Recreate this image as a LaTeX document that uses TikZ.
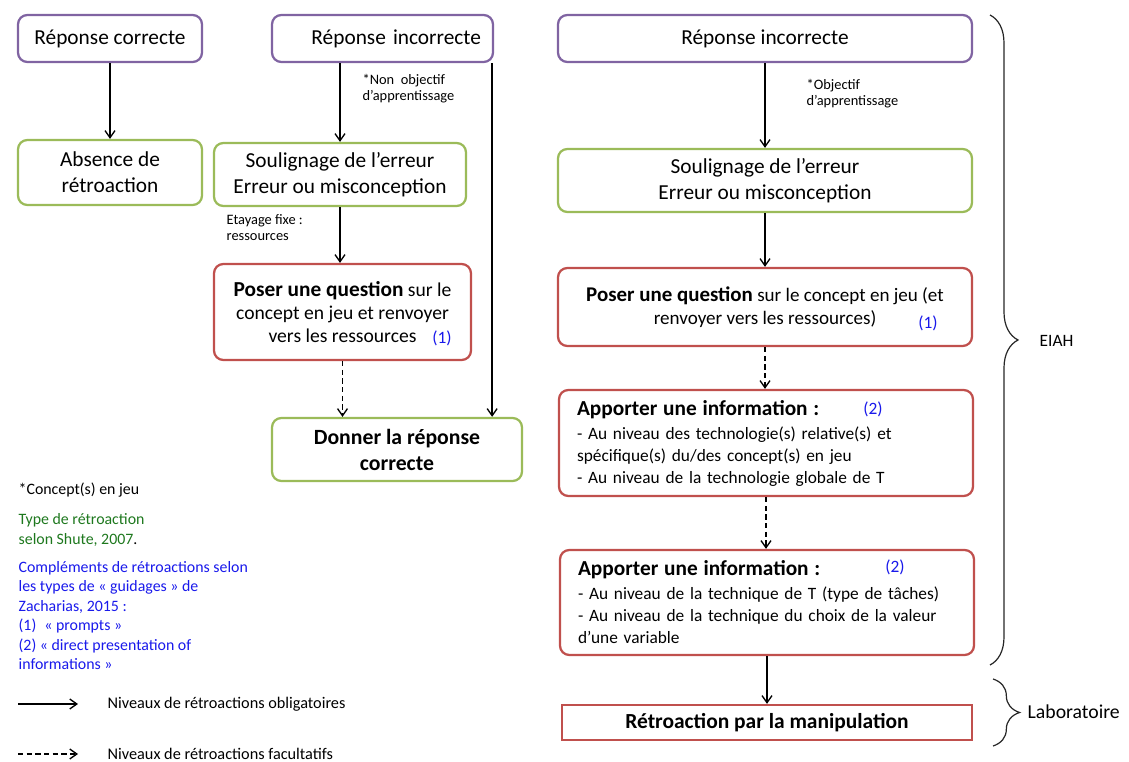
\documentclass[tikz,border=0pt]{standalone}
\usepackage{fontspec}
\setmainfont{Carlito}
\usetikzlibrary{arrows.meta, positioning, decorations.pathreplacing}
\definecolor{violetbord}{RGB}{128,100,162}
\definecolor{vertbord}{RGB}{155,187,89}
\definecolor{rougebord}{RGB}{192,80,77}
\definecolor{vertshute}{RGB}{30,120,30}
\definecolor{bleuzach}{RGB}{25,25,235}

\begin{document}
\begin{tikzpicture}[x=0.75pt, y=-0.75pt,
    box/.style={draw, rounded corners=7pt, line width=1.7pt, align=center, inner sep=0pt,
                fill=white, font=\fontsize{16}{19.5}\selectfont},
    rep/.style={box, draw=violetbord, minimum height=35.25pt},
    fb/.style={box, draw=vertbord},
    cpl/.style={box, draw=rougebord},
    info/.style={cpl, align=left, inner xsep=13.5pt, text width=283.5pt,
                 font=\fontsize{13}{16.5}\selectfont},
    note/.style={anchor=north west, align=left, inner sep=0pt, font=\fontsize{10.8}{12}\selectfont},
    leg/.style={anchor=west, align=left, inner sep=0pt, font=\fontsize{11.9}{14.6}\selectfont},
    ref/.style={inner sep=0pt, text=bleuzach, font=\fontsize{13}{14}\selectfont},
    accol/.style={decorate, decoration={brace, amplitude=#1}, line width=0.9pt, draw=black!85},
    pointille/.style={dash pattern=on 4pt off 2.5pt},
    >={Straight Barb[angle=70:6.5pt]}, line width=1pt
  ]
    \useasboundingbox (0,0) rectangle (1129,762);

    % reponses de l'eleve
    \node[rep, minimum width=138pt] (rc) at (110,38.5) {Réponse correcte};
    \node[rep, minimum width=165.75pt, align=right, inner xsep=9pt, text width=147.75pt] (ri) at (382.5,38.5) {Réponse incorrecte};
    \node[rep, minimum width=310.5pt] (riobj) at (765,38.5) {Réponse incorrecte};

    % colonne de gauche et du milieu
    \node[fb, minimum width=138pt, minimum height=48.75pt] (abs) at (110,172.5) {Absence de\\rétroaction};
    \node[fb, minimum width=189pt, minimum height=47.25pt] (soul) at (340,174.5) {Soulignage de l’erreur\\Erreur ou misconception};
    \node[cpl, minimum width=192.75pt, minimum height=72pt, font=\fontsize{14.7}{17.25}\selectfont] (pq) at (342.5,312)
      {{\bfseries\fontsize{16}{17.25}\selectfont Poser une question} sur le\\concept en jeu et renvoyer\\vers les ressources};
    \node[fb, minimum width=187.5pt, minimum height=47.25pt, font=\bfseries\fontsize{16.3}{19.5}\selectfont] (don) at (397,449.5) {Donner la réponse\\correcte};

    % colonne de droite
    \node[fb, minimum width=310.5pt, minimum height=47.25pt] (soulobj) at (765,180.5) {Soulignage de l’erreur\\Erreur ou misconception};
    \node[cpl, minimum width=310.5pt, minimum height=58.5pt, font=\fontsize{14.3}{17.25}\selectfont] (pqobj) at (765,307)
      {{\bfseries\fontsize{15.7}{17.25}\selectfont Poser une question} sur le concept en jeu (et\\renvoyer vers les ressources)};
    \node[info, minimum height=79.5pt] (app1) at (766,443)
      {{\bfseries\fontsize{16}{18}\selectfont Apporter une information :}\\[1.5pt]- Au niveau des technologie(s) relative(s) et\\spécifique(s) du/des concept(s) en jeu\\- Au niveau de la technologie globale de T};
    \node[info, minimum height=78.75pt] (app2) at (767,602.5)
      {{\bfseries\fontsize{16}{18}\selectfont Apporter une information :}\\[1.5pt]- Au niveau de la technique de T (type de tâches)\\- Au niveau de la technique du choix de la valeur\\d’une variable};
    \node[cpl, rounded corners=0pt, minimum width=307.5pt, minimum height=26.25pt,
          font=\bfseries\fontsize{16.1}{17}\selectfont] (manip) at (767,722.5) {Rétroaction par la manipulation};

    % renvois Zacharias
    \node[ref] (pqn) at (442,338) {(1)};
    \node[ref] (pqobjn) at (928,323) {(1)};
    \node[ref] (app1n) at (873,409) {(2)};
    \node[ref] (app2n) at (895,567) {(2)};

    % annotations des fleches
    \node[note] (nonobj) at (362,74) {*Non\ \ objectif\\d’apprentissage};
    \node[note] (obj) at (806,79) {*Objectif\\d’apprentissage};
    \node[note] (etay) at (226,214) {Etayage fixe :\\ressources};

    % fleches
    \coordinate (ridroit) at ([xshift=-1.5pt]ri.south east);
    \draw[->] (rc) -- (abs);
    \draw[->] (soul.north |- ri.south) -- (soul.north);
    \draw[->] (soul.south) -- (soul.south |- pq.north);
    \draw[->, pointille] (pq.south) -- (pq.south |- don.north);
    \draw[->] (ridroit) -- (ridroit |- don.north);
    \draw[->] (riobj) -- (soulobj);
    \draw[->] (soulobj) -- (pqobj);
    \draw[->, pointille] (pqobj.south) -- (pqobj.south |- app1.north);
    \draw[->, pointille] (app1.south) -- (app1.south |- app2.north);
    \draw[->] (app2) -- (manip);

    % accolades
    \coordinate (eiahH) at (990,15);
    \coordinate (eiahB) at (990,665);
    \coordinate (laboH) at (993,679);
    \coordinate (laboB) at (993,746);
    \draw[accol=21pt] (eiahH) -- (eiahB);
    \draw[accol=20pt] (laboH) -- (laboB);
    \node[leg, font=\fontsize{13}{14}\selectfont] (eiah) at (1039,341) {EIAH};
    \node[leg, font=\fontsize{14.8}{16}\selectfont] (labo) at (1027,712) {Laboratoire};

    % legende
    \node[leg] (concept) at (18,490) {*Concept(s) en jeu};
    \node[leg, text=vertshute] (shute) at (18,530) {Type de rétroaction\\selon Shute, 2007\textcolor{black}{.}};
    \node[leg, text=bleuzach] (zach) at (18,615.5)
      {Compléments de rétroactions selon\\les types de « guidages » de\\Zacharias, 2015 :\\(1)\hspace{6pt}« prompts »\\(2) « direct presentation of\\informations »};
    \coordinate (oblA) at (18,704);
    \coordinate (oblB) at (78,704);
    \coordinate (facA) at (18,754);
    \coordinate (facB) at (78,754);
    \draw[->] (oblA) -- (oblB);
    \draw[->, pointille] (facA) -- (facB);
    \node[leg, font=\fontsize{12.2}{14}\selectfont] (obl) at (107,704) {Niveaux de rétroactions obligatoires};
    \node[leg, font=\fontsize{12.2}{14}\selectfont] (fac) at (107,754) {Niveaux de rétroactions facultatifs};
\end{tikzpicture}
\end{document}
